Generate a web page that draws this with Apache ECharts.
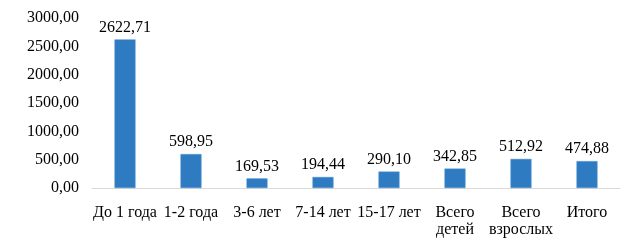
<!DOCTYPE html>
<html><head><meta charset="utf-8">
<script src="https://cdn.jsdelivr.net/npm/echarts@6/dist/echarts.min.js"></script>
<style>html,body{margin:0;padding:0;background:#fff}#c{width:627px;height:251px}</style>
</head><body><div id="c"></div>
<script>
const categories = ["До 1 года", "1-2 года", "3-6 лет", "7-14 лет", "15-17 лет", "Всего\nдетей", "Всего\nвзрослых", "Итого"];
const values = [2622.71, 598.95, 169.53, 194.44, 290.10, 342.85, 512.92, 474.88];
const yTicks = [0, 500, 1000, 1500, 2000, 2500, 3000];
const fmt = v => v.toFixed(2).replace('.', ',');
const chart = echarts.init(document.getElementById('c'));
chart.setOption({
  animation: false,
  grid: {left: 92, right: 7, top: 18, bottom: 63},
  xAxis: {
    type: 'category', data: categories,
    axisLine: {lineStyle: {color: '#d9d9d9'}},
    axisTick: {show: false},
    axisLabel: {fontFamily: 'Liberation Serif', fontSize: 16, color: '#000', margin: 16, lineHeight: 17, interval: 0}
  },
  yAxis: {
    type: 'value', min: yTicks[0], max: yTicks[yTicks.length-1], interval: 500,
    splitLine: {show: false},
    axisLine: {show: false}, axisTick: {show: false},
    axisLabel: {fontFamily: 'Liberation Serif', fontSize: 16, color: '#000', margin: 13, formatter: fmt}
  },
  series: [{
    type: 'bar', data: values, barWidth: 21,
    itemStyle: {color: '#2E7BC2', borderColor: '#4A90D0', borderWidth: 0.5},
    label: {show: true, position: 'top', distance: 4, fontFamily: 'Liberation Serif', fontSize: 16, color: '#000', formatter: p => fmt(p.value)}
  }]
});
</script></body></html>
